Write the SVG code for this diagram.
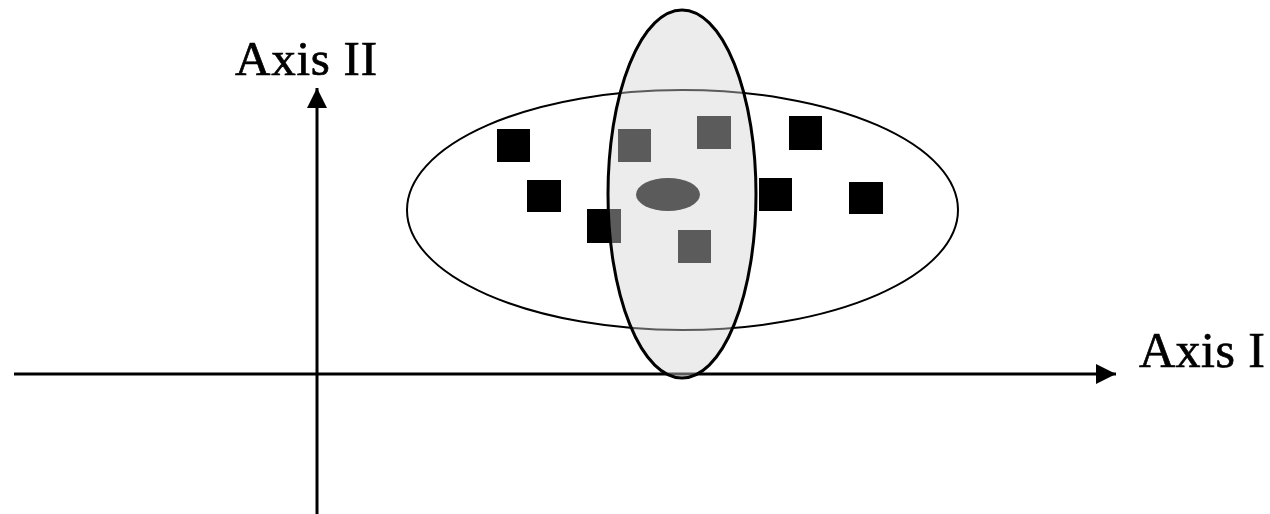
<svg xmlns="http://www.w3.org/2000/svg" width="1270" height="514" viewBox="0 0 1270 514">
<style>
.lbl{font-family:"Liberation Serif","Times New Roman",serif;font-size:49px;fill:#000;stroke:#000;stroke-width:0.7}
.blk{fill:#000}
.axis{stroke:#000;stroke-width:3;fill:none}
</style>
<defs>
<marker id="ah" viewBox="0 0 20 20" refX="20" refY="10" markerWidth="20" markerHeight="20" markerUnits="userSpaceOnUse" orient="auto">
<path d="M0,0 L20,10 L0,20 Z" fill="#000"/>
</marker>
</defs>
<rect width="1270" height="514" fill="#fff"/>
<g id="connectors">
<line class="axis" x1="14" y1="374" x2="1116" y2="374" marker-end="url(#ah)"/>
<line class="axis" x1="317" y1="514" x2="317" y2="88" marker-end="url(#ah)"/>
</g>
<g id="axis-labels">
<text class="lbl" x="235" y="75" textLength="142">Axis II</text>
<text class="lbl" x="1139" y="367" style="font-size:50px" textLength="126">Axis I</text>
</g>
<g id="large-ellipse">
<ellipse cx="682.5" cy="210" rx="275.5" ry="120" fill="none" stroke="#000" stroke-width="2"/>
</g>
<g id="points">
<rect class="blk" x="497" y="129" width="33" height="33"/>
<rect class="blk" x="527" y="180" width="34" height="32"/>
<rect class="blk" x="587" y="209" width="34" height="34"/>
<rect class="blk" x="618" y="129" width="33" height="33"/>
<rect class="blk" x="697" y="116" width="34" height="33"/>
<rect class="blk" x="678" y="230" width="33" height="33"/>
<rect class="blk" x="789" y="116" width="33" height="34"/>
<rect class="blk" x="759" y="178" width="33" height="33"/>
<rect class="blk" x="849" y="182" width="34" height="32"/>
<ellipse class="blk" cx="668" cy="194.5" rx="32" ry="16.5"/>
</g>
<g id="vertical-ellipse">
<ellipse cx="682" cy="194" rx="74" ry="184" fill="#d3d3d3" fill-opacity="0.43" stroke="none"/>
<ellipse cx="682" cy="194" rx="74" ry="184" fill="none" stroke="#000" stroke-width="3"/>
</g>
</svg>
